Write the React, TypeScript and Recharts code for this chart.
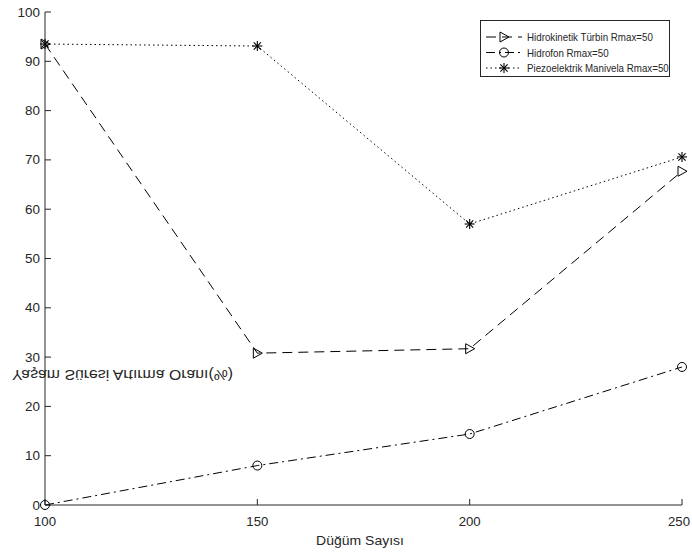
import { Legend, Line, LineChart, XAxis, YAxis } from "recharts";

// node counts on the x axis, lifetime gain (%) per harvester
const nodeCounts = [100, 150, 200, 250];
const turbineGain = [93.5, 30.8, 31.7, 67.7];
const hydrophoneGain = [0, 8.0, 14.4, 28.0];
const piezoGain = [93.5, 93.1, 57.0, 70.6];

const xTicks = [100, 150, 200, 250];
const yTicks = [0, 10, 20, 30, 40, 50, 60, 70, 80, 90, 100];

const seriesNames = [
  "Hidrokinetik Türbin Rmax=50",
  "Hidrofon Rmax=50",
  "Piezoelektrik Manivela Rmax=50",
];

const data = nodeCounts.map((n, i) => ({
  n,
  turbine: turbineGain[i],
  hydrophone: hydrophoneGain[i],
  piezo: piezoGain[i],
}));

const W = 692;
const H = 552;
const PLOT_LEFT = 45;
const PLOT_BOTTOM = 505;
const ink = "#262626";
const font = '"Liberation Sans", Arial, sans-serif';

type MarkerKind = "triangle" | "circle" | "star";

const series: { key: string; name: string; dash: string; marker: MarkerKind }[] = [
  { key: "turbine", name: seriesNames[0], dash: "10 6", marker: "triangle" },
  { key: "hydrophone", name: seriesNames[1], dash: "9 4 2 4", marker: "circle" },
  { key: "piezo", name: seriesNames[2], dash: "1.5 3", marker: "star" },
];

function Marker({ kind, cx, cy }: { kind: MarkerKind; cx: number; cy: number }) {
  if (kind === "triangle") {
    return (
      <polygon
        points={`${cx - 4},${cy - 5} ${cx + 5},${cy} ${cx - 4},${cy + 5}`}
        fill="none"
        stroke="#000"
        strokeWidth={1}
      />
    );
  }
  if (kind === "circle") {
    return <circle cx={cx} cy={cy} r={4.5} fill="none" stroke="#000" strokeWidth={1} />;
  }
  const s = 5;
  const d = 3.6;
  return (
    <g stroke="#000" strokeWidth={1.1}>
      <line x1={cx - s} y1={cy} x2={cx + s} y2={cy} />
      <line x1={cx} y1={cy - s} x2={cx} y2={cy + s} />
      <line x1={cx - d} y1={cy - d} x2={cx + d} y2={cy + d} />
      <line x1={cx - d} y1={cy + d} x2={cx + d} y2={cy - d} />
    </g>
  );
}

function XTick(props: any) {
  const x = props.payload.coordinate;
  // keep the last label inside the canvas
  const lx = Math.min(x, W - 13);
  return (
    <g>
      <line x1={x} y1={PLOT_BOTTOM} x2={x} y2={PLOT_BOTTOM - 6} stroke={ink} />
      <text
        transform={`translate(${lx},${PLOT_BOTTOM + 21}) scale(1.1,1)`}
        textAnchor="middle"
        fontSize={12}
        fontFamily={font}
        fill={ink}
      >
        {props.payload.value}
      </text>
    </g>
  );
}

function YTick(props: any) {
  const y = props.payload.coordinate;
  return (
    <g>
      <line x1={PLOT_LEFT} y1={y} x2={PLOT_LEFT + 6} y2={y} stroke={ink} />
      <text
        transform={`translate(${PLOT_LEFT - 5},${y + 4.5}) scale(1.12,1)`}
        textAnchor="end"
        fontSize={12}
        fontFamily={font}
        fill={ink}
      >
        {props.payload.value}
      </text>
    </g>
  );
}

function LegendBox() {
  const rows = [17, 32.5, 48];
  return (
    <svg width={190} height={57} style={{ display: "block" }}>
      <rect x={0.5} y={0.5} width={189} height={56} fill="#fff" stroke={ink} />
      {series.map((s, i) => (
        <g key={s.key}>
          <line x1={6} y1={rows[i]} x2={42} y2={rows[i]} stroke="#000" strokeDasharray={s.dash} />
          <Marker kind={s.marker} cx={24} cy={rows[i]} />
          <text
            transform={`translate(47,${rows[i] + 4}) scale(0.93,1)`}
            fontSize={10.5}
            fontFamily={font}
            fill={ink}
          >
            {s.name}
          </text>
        </g>
      ))}
    </svg>
  );
}

export default function App() {
  return (
    <div style={{ position: "absolute", left: 0, top: 0, background: "#fff" }}>
      <LineChart width={W} height={H} data={data} margin={{ top: 12, right: 10, bottom: 17, left: 5 }}>
        <XAxis
          dataKey="n"
          type="number"
          domain={[100, 250]}
          ticks={xTicks}
          tickLine={false}
          axisLine={{ stroke: ink }}
          tick={<XTick />}
          height={30}
          label={{
            content: () => (
              <text
                transform={`translate(360,545) scale(1.12,1)`}
                textAnchor="middle"
                fontSize={12.5}
                fontFamily={font}
                fill={ink}
              >
                Düğüm Sayısı
              </text>
            ),
          }}
        />
        <YAxis
          type="number"
          domain={[0, 100]}
          ticks={yTicks}
          tickLine={false}
          axisLine={{ stroke: ink }}
          tick={<YTick />}
          width={40}
          label={{
            content: () => (
              <text
                transform="translate(12,370) scale(1.13,-1)"
                fontSize={14}
                fontFamily={font}
                fill={ink}
              >
                Yaşam Süresi Artırma Oranı(%)
              </text>
            ),
          }}
        />
        {series.map((s) => (
          <Line
            key={s.key}
            dataKey={s.key}
            name={s.name}
            type="linear"
            stroke="#000"
            strokeWidth={1}
            strokeDasharray={s.dash}
            isAnimationActive={false}
            dot={(p: any) => <Marker key={`${s.key}-${p.index}`} kind={s.marker} cx={p.cx} cy={p.cy} />}
            activeDot={false}
          />
        ))}
        <Legend
          layout="vertical"
          align="center"
          verticalAlign="middle"
          wrapperStyle={{ left: 480, top: 20, width: 190, height: 57 }}
          content={() => <LegendBox />}
        />
      </LineChart>
    </div>
  );
}
